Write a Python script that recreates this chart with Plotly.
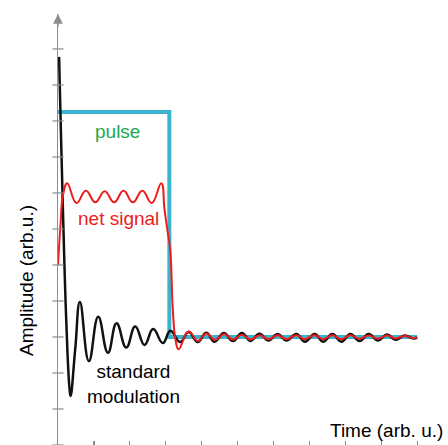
import plotly.graph_objects as go

# ---- data (arbitrary units; one tick step = 1 unit) ----
pulse_t = [0.0, 3.1, 3.1, 10.0]
pulse_a = [9.25, 9.25, 3.0, 3.0]

standard_t = [0.03, 0.08, 0.13, 0.16, 0.20, 0.24, 0.28, 0.32, 0.35, 0.48, 0.61,
              0.86, 1.12, 1.39, 1.63, 1.90, 2.15, 2.41, 2.65, 2.92,
              3.13, 3.40, 3.64, 3.89, 4.13, 4.36, 4.62, 4.87, 5.12, 5.36,
              5.61, 5.86, 6.12, 6.36, 6.64, 6.87, 7.15, 7.38, 7.64, 7.89,
              8.14, 8.40, 8.65, 8.91, 9.16, 9.40, 9.65, 9.90, 10.0]
standard_a = [10.78, 8.75, 6.81, 5.69, 4.31, 3.19, 2.22, 1.58, 1.36, 2.67, 3.97,
              2.33, 3.56, 2.56, 3.38, 2.71, 3.29, 2.78, 3.22, 2.83,
              3.17, 2.86, 3.14, 2.86, 3.12, 2.87, 3.11, 2.89, 3.11, 2.89,
              3.09, 2.90, 3.08, 2.90, 3.08, 2.87, 3.08, 2.87, 3.08, 2.87,
              3.08, 2.89, 3.08, 2.90, 3.07, 2.92, 3.04, 2.96, 2.99]

net_t = [0.0, 0.07, 0.14, 0.256, 0.515, 0.777, 1.039, 1.301, 1.563, 1.825,
         2.086, 2.348, 2.610, 2.875, 2.967, 3.058, 3.125, 3.198, 3.273, 3.357,
         3.635, 3.894, 4.128, 4.373, 4.624, 4.869, 5.120, 5.362, 5.613, 5.864,
         6.12, 6.36, 6.64, 6.87, 7.15, 7.38, 7.64, 7.89, 8.14, 8.40,
         8.65, 8.91, 9.16, 9.40, 9.65, 9.90, 10.0]
net_a = [5.0, 6.11, 6.94, 7.27, 6.72, 7.06, 6.74, 7.05, 6.74, 7.06,
         6.74, 7.06, 6.72, 7.27, 6.53, 5.89, 5.42, 3.75, 2.92, 2.66,
         3.15, 2.89, 3.10, 2.92, 3.08, 2.93, 3.06, 2.93, 3.05, 2.94,
         3.05, 2.94, 3.05, 2.94, 3.05, 2.94, 3.05, 2.94, 3.05, 2.95,
         3.04, 2.95, 3.04, 2.96, 3.03, 2.97, 2.99]

x_ticks = list(range(0, 11))
y_ticks = list(range(0, 12))

AXIS = "#8c8c8c"
FONT = "Arial, 'Liberation Sans', Helvetica, sans-serif"

fig = go.Figure()
fig.add_trace(go.Scatter(x=pulse_t, y=pulse_a, mode="lines",
                         line=dict(color="#3ab4cc", width=4), hoverinfo="skip"))
fig.add_trace(go.Scatter(x=standard_t, y=standard_a, mode="lines",
                         line=dict(color="#111111", width=2.5, shape="spline", smoothing=1.3),
                         hoverinfo="skip"))
fig.add_trace(go.Scatter(x=net_t, y=net_a, mode="lines",
                         line=dict(color="#ee1c1c", width=2, shape="spline", smoothing=1.3),
                         hoverinfo="skip"))
# y-axis tick marks crossing the axis line
fig.add_trace(go.Scatter(x=[0] * len(y_ticks), y=y_ticks, mode="markers",
                         marker=dict(symbol="line-ew", size=8,
                                     line=dict(color=AXIS, width=1.2)),
                         cliponaxis=False, hoverinfo="skip"))
# empty trace that carries the (invisible) axis used for the amplitude title
fig.add_trace(go.Scatter(x=[None], y=[None], yaxis="y2", hoverinfo="skip"))

fig.update_layout(
    width=448, height=445,
    margin=dict(l=58, r=0, t=14, b=0),
    paper_bgcolor="white", plot_bgcolor="rgba(0,0,0,0)",
    showlegend=False,
    font=dict(family=FONT, size=19, color="black"),
    xaxis=dict(range=[0, 10.86], showgrid=False, zeroline=False,
               showline=True, linecolor=AXIS, linewidth=1.5,
               ticks="inside", ticklen=4, tickcolor=AXIS, tickwidth=1.2,
               tickvals=x_ticks, showticklabels=False),
    yaxis=dict(range=[0, 11.97], showgrid=False, zeroline=False,
               showline=True, linecolor=AXIS, linewidth=1.5,
               ticks="", showticklabels=False),
    yaxis2=dict(domain=[0, 0.7634], anchor="free", position=0, side="left",
                showgrid=False, zeroline=False, showline=False, ticks="",
                showticklabels=False,
                title=dict(text="Amplitude (arb.u.)", standoff=18,
                           font=dict(family=FONT, size=19, color="black"))),
)

annotations = [
    # arrow head at top of the amplitude axis
    dict(x=0, y=1, xref="x", yref="paper", text="", showarrow=True,
         ax=0, ay=14, arrowhead=2, arrowsize=1.3, arrowwidth=1.5, arrowcolor=AXIS),
    dict(x=1.657, y=8.71, xref="x", yref="y", text="pulse", showarrow=False,
         font=dict(color="#1aaa50", size=19)),
    dict(x=1.685, y=6.29, xref="x", yref="y", text="net signal", showarrow=False,
         font=dict(color="#ee1c1c", size=19)),
    dict(x=2.103, y=1.70, xref="x", yref="y", text="standard<br>modulation",
         showarrow=False, align="center", font=dict(color="black", size=19)),
    dict(x=10.79, y=0.39, xref="x", yref="y", text="Time (arb. u.)", xanchor="right",
         showarrow=False, font=dict(color="black", size=19)),
]
fig.update_layout(annotations=annotations)

fig.write_html("out.html", config={"displayModeBar": False, "staticPlot": True},
               post_script="document.body.style.margin='0';document.body.style.overflow='hidden';")
